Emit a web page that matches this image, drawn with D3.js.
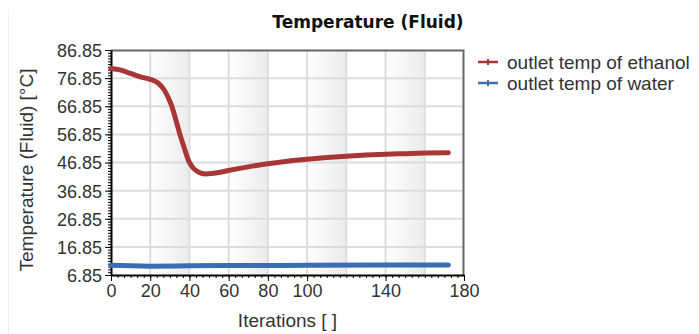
<!DOCTYPE html>
<html>
<head>
<meta charset="utf-8">
<script src="https://cdn.jsdelivr.net/npm/d3@7"></script>
<style>
  body { margin: 0; background: #fff; }
  svg { display: block; }
  .tick text { font-family: "Liberation Sans", Arial, sans-serif; font-size: 18px; fill: #333; }
</style>
</head>
<body>
<div id="chart"></div>
<script>
// data
const ethanolIter = [0, 5, 10, 15, 20, 24, 27, 30, 31, 33, 35, 37, 39.5, 42, 45, 48, 51, 55, 60, 70, 80, 90, 100, 110, 120, 130, 140, 150, 160, 172]
const ethanolTemp = [80.3, 79.7, 78.5, 77.3, 76.4, 75.1, 72.8, 68.6, 66.9, 62.2, 57.2, 52.8, 47.6, 44.8, 43.3, 42.8, 42.9, 43.3, 44.0, 45.3, 46.4, 47.3, 48.0, 48.6, 49.1, 49.5, 49.8, 50.0, 50.2, 50.3]
const waterIter = [0, 10, 20, 40, 60, 100, 140, 172]
const waterTemp = [10.3, 10.1, 10.0, 10.1, 10.2, 10.3, 10.4, 10.4]
const xTicks = [0, 20, 40, 60, 80, 100, 140, 180]
const yTicks = [6.85, 16.85, 26.85, 36.85, 46.85, 56.85, 66.85, 76.85, 86.85]
const seriesNames = ['outlet temp of ethanol', 'outlet temp of water']
const seriesColors = ['#a83636', '#3b6db3']

const width = 699, height = 334
const padding = { top: 50, left: 111, right: 235, bottom: 59 }
const innerW = width - padding.left - padding.right
const innerH = height - padding.top - padding.bottom

const svg = d3.select('#chart').append('svg')
  .attr('width', width)
  .attr('height', height)

// faint panel edge on the far left
svg.append('line')
  .attr('x1', 8.5).attr('x2', 8.5).attr('y1', 10).attr('y2', height)
  .attr('stroke', '#eef2f7').attr('stroke-width', 1)

const xScale = d3.scaleLinear().domain([0, 180]).range([0, innerW])
const yScale = d3.scaleLinear().domain([6.85, 86.85]).range([innerH, 0])

const defs = svg.append('defs')
const grad = defs.append('linearGradient').attr('id', 'band').attr('x1', '0').attr('x2', '1')
grad.append('stop').attr('offset', '0%').attr('stop-color', '#ffffff')
grad.append('stop').attr('offset', '100%').attr('stop-color', '#ebebeb')

const g = svg.append('g').attr('transform', 'translate(' + padding.left + ',' + padding.top + ')')

// alternating shaded bands
const bandStarts = [20, 60, 100, 140]
g.selectAll('.band').data(bandStarts).enter().append('rect')
  .attr('x', d => xScale(d))
  .attr('y', 0)
  .attr('width', d => xScale(d + 20) - xScale(d))
  .attr('height', innerH)
  .attr('fill', 'url(#band)')

// grid
const gridX = d3.range(20, 180, 20)
g.selectAll('.gx').data(gridX).enter().append('line')
  .attr('x1', d => xScale(d)).attr('x2', d => xScale(d))
  .attr('y1', 0).attr('y2', innerH)
  .attr('stroke', '#dcdcdc').attr('stroke-width', 2)
g.selectAll('.gy').data(yTicks.slice(1, -1)).enter().append('line')
  .attr('x1', 0).attr('x2', innerW)
  .attr('y1', d => yScale(d)).attr('y2', d => yScale(d))
  .attr('stroke', '#dcdcdc').attr('stroke-width', 2)

// top and right border
g.append('path')
  .attr('d', 'M0,0.5H' + (innerW - 0.5) + 'V' + innerH)
  .attr('fill', 'none').attr('stroke', '#666').attr('stroke-width', 2)

// minor ticks
const xMinor = d3.range(0, 180.01, 10 / 3)
g.append('g').attr('transform', 'translate(0,' + innerH + ')')
  .call(d3.axisBottom(xScale).tickValues(xMinor).tickSize(3).tickFormat(''))
  .call(a => a.select('.domain').remove())
const yMinor = d3.range(6.85, 86.86, 1)
g.append('g')
  .call(d3.axisLeft(yScale).tickValues(yMinor).tickSize(3).tickFormat(''))
  .call(a => a.select('.domain').remove())

// major axes
const xAxis = g.append('g').attr('transform', 'translate(0,' + innerH + ')')
  .call(d3.axisBottom(xScale).tickValues(xTicks).tickSize(6).tickSizeOuter(0).tickPadding(3).tickFormat(d3.format('d')))
const yAxis = g.append('g')
  .call(d3.axisLeft(yScale).tickValues(yTicks).tickSize(6).tickSizeOuter(0).tickPadding(3).tickFormat(d3.format('.2f')))
xAxis.select('.domain').attr('stroke-width', 2)
yAxis.select('.domain').attr('stroke-width', 2)
g.selectAll('.tick line').attr('stroke', '#000')
yAxis.selectAll('.tick text').attr('dy', '0.36em')

// series
const line = d3.line().x(d => xScale(d[0])).y(d => yScale(d[1])).curve(d3.curveMonotoneX)
const series = [d3.zip(ethanolIter, ethanolTemp), d3.zip(waterIter, waterTemp)]
g.selectAll('.series').data(series).enter().append('path')
  .attr('d', line)
  .attr('fill', 'none')
  .attr('stroke', (d, i) => seriesColors[i])
  .attr('stroke-width', 5)
  .attr('stroke-linecap', 'round')

// title and axis labels
svg.append('text')
  .attr('x', 368).attr('y', 28)
  .attr('text-anchor', 'middle')
  .style('font-family', '"DejaVu Sans", Verdana, sans-serif')
  .style('font-weight', 'bold')
  .style('font-size', '17px')
  .attr('fill', '#111')
  .text('Temperature (Fluid)')
svg.append('text')
  .attr('x', padding.left + innerW / 2).attr('y', 327)
  .attr('text-anchor', 'middle')
  .style('font-family', '"Liberation Sans", Arial, sans-serif')
  .style('font-size', '19px')
  .attr('fill', '#333')
  .text('Iterations [ ]')
svg.append('text')
  .attr('transform', 'translate(33,170) rotate(-90)')
  .attr('text-anchor', 'middle')
  .style('font-family', '"Liberation Sans", Arial, sans-serif')
  .style('font-size', '19px')
  .attr('fill', '#333')
  .text('Temperature (Fluid) [°C]')

// legend
const legend = svg.selectAll('.legend').data(seriesNames).enter().append('g')
  .attr('transform', (d, i) => 'translate(478,' + (62 + i * 21) + ')')
legend.append('line')
  .attr('x1', 0).attr('x2', 20)
  .attr('stroke', (d, i) => seriesColors[i]).attr('stroke-width', 2.5)
legend.append('line')
  .attr('x1', 10).attr('x2', 10).attr('y1', -3).attr('y2', 3)
  .attr('stroke', (d, i) => seriesColors[i]).attr('stroke-width', 2)
legend.append('text')
  .attr('x', 29).attr('dy', '0.35em')
  .style('font-family', '"Liberation Sans", Arial, sans-serif')
  .style('font-size', '19px')
  .attr('fill', '#333')
  .text(d => d)
</script>
</body>
</html>
